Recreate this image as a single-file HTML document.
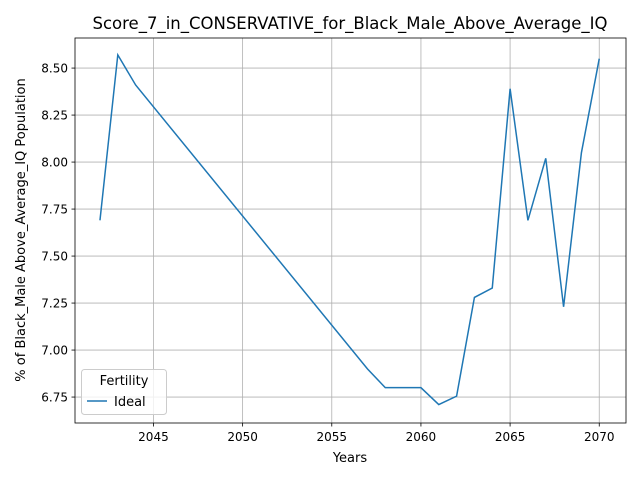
<!DOCTYPE html>
<html><head><meta charset="utf-8"><style>
body{margin:0;background:#fff;font-family:"Liberation Sans","DejaVu Sans",sans-serif}
svg text{font-family:"DejaVu Sans","Liberation Sans",sans-serif}
</style></head><body>
<svg width="640" height="480">
<rect width="640" height="480" fill="#fff"/>
<g id="grid"></g>
<g id="axes"></g>
<polyline id="line" fill="none" stroke="#1f77b4" stroke-width="1.5"/>
<rect x="75" y="38" width="551" height="385" fill="none" stroke="#000" stroke-width="0.8"/>
<text x="350" y="29" text-anchor="middle" font-size="16.5">Score_7_in_CONSERVATIVE_for_Black_Male_Above_Average_IQ</text>
<text x="350" y="462" text-anchor="middle" font-size="13">Years</text>
<text transform="translate(25,230) rotate(-90)" text-anchor="middle" font-size="13">% of Black_Male Above_Average_IQ Population</text>
<g>
<rect x="81.5" y="369.5" width="85" height="45" rx="3" fill="#fff" fill-opacity="0.8" stroke="#ccc"/>
<text x="124" y="385" text-anchor="middle" font-size="13">Fertility</text>
<line x1="87" y1="401" x2="107" y2="401" stroke="#1f77b4" stroke-width="1.5"/>
<text x="114" y="406" font-size="13">Ideal</text>
</g>
</svg>
<script>
const years=[2042,2043,2044,2057,2058,2059,2060,2061,2062,2063,2064,2065,2066,2067,2068,2069,2070];
const values=[7.69,8.57,8.41,6.90,6.80,6.80,6.80,6.71,6.755,7.28,7.33,8.39,7.69,8.02,7.23,8.05,8.55];
const xTicks=[2045,2050,2055,2060,2065,2070];
const yTicks=[6.75,7.00,7.25,7.50,7.75,8.00,8.25,8.50];
const X0=75,X1=626,Y0=423,Y1=38,xmin=2040.6,xmax=2071.5,ymin=6.612,ymax=8.66;
const sx=v=>X0+(v-xmin)/(xmax-xmin)*(X1-X0);
const sy=v=>Y0-(v-ymin)/(ymax-ymin)*(Y0-Y1);
const NS="http://www.w3.org/2000/svg";
const grid=document.getElementById('grid'),axes=document.getElementById('axes');
function mk(tag,attrs,parent){const e=document.createElementNS(NS,tag);for(const k in attrs)e.setAttribute(k,attrs[k]);parent.appendChild(e);return e;}
xTicks.forEach(t=>{const x=sx(t);
 const g=mk('line',{x1:x,x2:x,y1:Y1,y2:Y0,stroke:'#b0b0b0','stroke-width':0.8},grid);
 
 
 mk('line',{x1:x,x2:x,y1:Y0,y2:Y0+3.5,stroke:'#000','stroke-width':0.8},axes);
 const tx=mk('text',{x:x,y:Y0+18,'text-anchor':'middle','font-size':12},axes);tx.textContent=t;
 
 
});
yTicks.forEach(t=>{const y=sy(t);
 const g=mk('line',{x1:X0,x2:X1,y1:y,y2:y,stroke:'#b0b0b0','stroke-width':0.8},grid);
 
 
 mk('line',{x1:X0-3.5,x2:X0,y1:y,y2:y,stroke:'#000','stroke-width':0.8},axes);
 const tx=mk('text',{x:X0-7,y:y+4.5,'text-anchor':'end','font-size':12},axes);tx.textContent=t.toFixed(2);
 
 
});
document.getElementById('line').setAttribute('points',years.map((y,i)=>sx(y)+','+sy(values[i])).join(' '));
</script>
</body></html>
